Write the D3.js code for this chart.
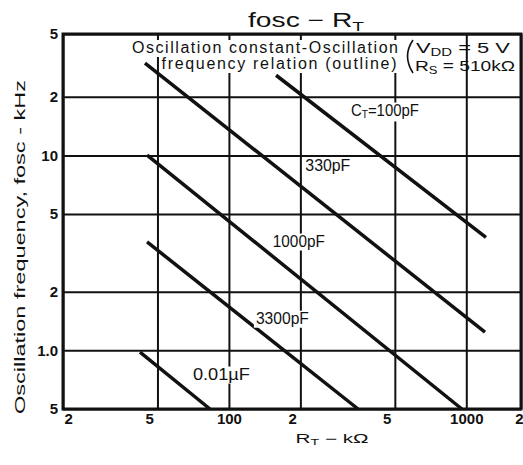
<!DOCTYPE html>
<html>
<head>
<meta charset="utf-8">
<script src="https://cdn.jsdelivr.net/npm/d3@7"></script>
<style>
  body { margin: 0; background: #fff; }
  text { font-family: "Liberation Sans", Arial, sans-serif; fill: #111; }
</style>
</head>
<body>
<svg id="chart" width="523" height="465"></svg>
<script>
// R_T axis (kOhm) - the right frame edge is labelled "2" (x1000)
const xDomain = [20, 1700];
const xTickValues = [20, 50, 100, 200, 500, 1000, 1700];
const xTickLabels = ["2", "5", "100", "2", "5", "1000", "2"];

// fosc axis (kHz)
const yDomain = [0.5, 42];
const yTickValues = [0.5, 1, 2, 5, 10, 20, 42];
const yTickLabels = ["5", "1.0", "2", "5", "10", "2", "5"];

// one straight line per timing capacitor C_T, start / end as (R_T, fosc)
const capacitors = ["100pF", "330pF", "1000pF", "3300pF", "0.01µF"];
const rStart = [158, 44.3, 45.2, 45.2, 42.2];
const fStart = [25.8, 29.8, 10.05, 3.6, 0.98];
const rEnd = [1210, 1199, 958, 350, 83.2];
const fEnd = [3.8, 1.24, 0.5, 0.5, 0.5];

const svg = d3.select("#chart");
const plotL = 63, plotR = 521, plotT = 34, plotB = 409;

const x = d3.scaleLog().domain(xDomain).range([plotL, plotR]);
const y = d3.scaleLog().domain(yDomain).range([plotB, plotT]);

// grid lines come from the axis ticks
const xAxis = d3.axisBottom(x)
  .tickValues(xTickValues)
  .tickFormat((d, i) => xTickLabels[i])
  .tickSize(-(plotB - plotT))
  .tickPadding(4);

const gx = svg.append("g")
  .attr("transform", `translate(0,${plotB})`)
  .call(xAxis);
gx.select(".domain").remove();
gx.selectAll(".tick line").attr("stroke", "#111").attr("stroke-width", 2);
gx.selectAll(".tick text")
  .attr("font-size", 15)
  .attr("font-weight", "bold")
  .attr("fill", "#111")
  .attr("text-anchor", (d, i) => i === 0 ? "start" : i === xTickValues.length - 1 ? "end" : xTickLabels[i].length === 1 ? "end" : "middle")
  .attr("dx", (d, i) => i === 0 ? 1 : i === xTickValues.length - 1 ? 2 : xTickLabels[i].length === 1 ? -4 : 0);

const yAxis = d3.axisLeft(y)
  .tickValues(yTickValues)
  .tickFormat((d, i) => yTickLabels[i])
  .tickSize(-(plotR - plotL))
  .tickPadding(5);

const gy = svg.append("g")
  .attr("transform", `translate(${plotL},0)`)
  .call(yAxis);
gy.select(".domain").remove();
gy.selectAll(".tick line").attr("stroke", "#111").attr("stroke-width", 2);
gy.selectAll(".tick text")
  .attr("font-size", 15)
  .attr("font-weight", "bold")
  .attr("fill", "#111");

// text helper: parts = [[string, isSubscript], ...]
function label(px, py, parts, size, width, mask, adjust) {
  const g = svg.append("g");
  const t = g.append("text")
    .attr("x", px)
    .attr("y", py)
    .attr("text-anchor", "middle")
    .attr("font-size", size);
  let down = false;
  parts.forEach(([s, sub]) => {
    const ts = t.append("tspan").text(s);
    if (sub) {
      ts.attr("font-size", size * 0.68);
      if (!down) ts.attr("dy", size * 0.18);
      down = true;
    } else if (down) {
      ts.attr("dy", -size * 0.18);
      down = false;
    }
  });
  if (width) t.attr("textLength", width).attr("lengthAdjust", adjust || "spacingAndGlyphs");
  if (mask) {
    const b = t.node().getBBox();
    g.insert("rect", "text")
      .attr("x", b.x - 2).attr("y", b.y + 1)
      .attr("width", b.width + 4).attr("height", b.height)
      .attr("fill", "#fff");
  }
  return t;
}

// title
label(306, 27, [["fosc"], ["  −  "], ["R"], ["T", true]], 20, 116);

// outline note and conditions
label(265, 53, [["Oscillation constant-Oscillation"]], 16, 266, true, "spacing");
label(279, 69, [["frequency relation (outline)"]], 16, 235, true, "spacing");
// tall bracket in front of the conditions
svg.append("path")
  .attr("d", "M413,40 Q402,56 413,73")
  .attr("fill", "none")
  .attr("stroke", "#111")
  .attr("stroke-width", 1.6);
label(463, 53, [["V"], ["DD", true], [" = 5 V"]], 15, 94);
label(465, 71, [["R"], ["S", true], [" = 510kΩ"]], 15, 100);

// capacitor lines
const lines = capacitors.map((c, i) => [[rStart[i], fStart[i]], [rEnd[i], fEnd[i]]]);
svg.append("g")
  .selectAll("line")
  .data(lines)
  .join("line")
  .attr("x1", d => x(d[0][0]))
  .attr("y1", d => y(d[0][1]))
  .attr("x2", d => x(d[1][0]))
  .attr("y2", d => y(d[1][1]))
  .attr("stroke", "#111")
  .attr("stroke-width", 3.5);

// capacitor labels, placed in data space next to each line
const labelR = [454, 261, 197, 168, 93];
const labelF = [17.2, 8.93, 3.66, 1.47, 0.76];
const labelW = [68, 45, 52, 53, 57];
capacitors.forEach((c, i) => {
  const parts = i === 0 ? [["C"], ["T", true], ["=" + c]] : [[c]];
  label(x(labelR[i]), y(labelF[i]) + 6, parts, 16, labelW[i], true);
});

// frame
svg.append("rect")
  .attr("x", plotL).attr("y", plotT)
  .attr("width", plotR - plotL).attr("height", plotB - plotT)
  .attr("fill", "none")
  .attr("stroke", "#111")
  .attr("stroke-width", 3);

// axis titles
svg.append("text")
  .attr("transform", `translate(25,247) rotate(-90)`)
  .attr("text-anchor", "middle")
  .attr("font-size", 15)
  .attr("textLength", 334)
  .attr("lengthAdjust", "spacingAndGlyphs")
  .text("Oscillation frequency, fosc - kHz");

label(332, 443, [["R"], ["T", true], ["  −  kΩ"]], 12, 73);
</script>
</body>
</html>
